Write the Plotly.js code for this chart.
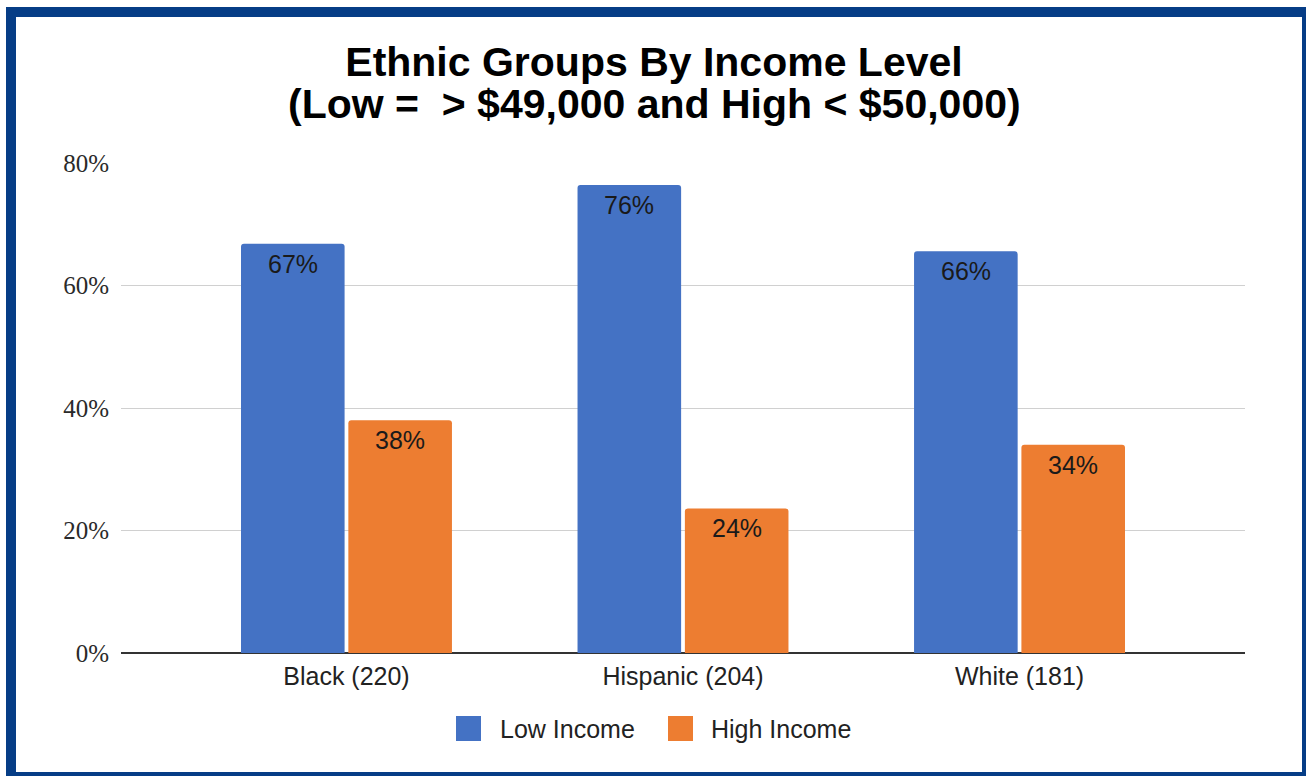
<!DOCTYPE html>
<html>
<head>
<meta charset="utf-8">
<script src="https://cdn.plot.ly/plotly-3.0.1.min.js"></script>
<style>
  html, body { margin:0; padding:0; background:#ffffff; overflow:hidden; }
  #chart { position:absolute; left:0; top:0; width:1306px; height:776px; }
  #frame { position:absolute; left:6px; top:7px; width:1306px; height:775px; box-sizing:border-box;
           border:10px solid #063d86; pointer-events:none; }
</style>
</head>
<body>
<div id="chart"></div>
<div id="frame"></div>
<script>
// ---- data ----
const categories = ['Black (220)', 'Hispanic (204)', 'White (181)'];
const seriesNames = ['Low Income', 'High Income'];
const lowIncome = [0.668, 0.764, 0.656];
const highIncome = [0.38, 0.236, 0.34];
const yTickVals = [0, 0.2, 0.4, 0.6, 0.8];
const yTickText = ['0%', '20%', '40%', '60%', '80%'];
const titleLines = ['Ethnic Groups By Income Level', '(Low =\u00A0 > $49,000 and High < $50,000)'];

// ---- style ----
const colors = ['#4472c4', '#ed7d31'];
const bargap = 0.362;
const bargroupgap = 0.035;
const W = 1306, H = 776;
const M = {l:121, r:61, t:163, b:123};
const pw = W - M.l - M.r, ph = H - M.t - M.b;
const px2x = p => (p - M.l) / pw;
const py2y = p => (H - M.b - p) / ph;
const sans = 'Liberation Sans, Arial, sans-serif';
const titleFont = {family: sans, size: 41, color: '#000000'};

const series = [lowIncome, highIncome];
const traces = series.map((vals, s) => ({
  type: 'bar',
  name: seriesNames[s],
  x: categories,
  y: vals,
  marker: {color: colors[s], line: {width: 0}},
  showlegend: false,
  hoverinfo: 'skip'
}));

const annotations = [];
// second title line
annotations.push({
  xref: 'paper', yref: 'paper',
  x: px2x(654), y: py2y(104),
  xanchor: 'center', yanchor: 'middle',
  showarrow: false,
  text: '<b>' + titleLines[1] + '</b>',
  font: titleFont
});

// value labels near the top inside each bar
const slot = (1 - bargap) / 2;
series.forEach((vals, s) => {
  vals.forEach((v, i) => {
    annotations.push({
      xref: 'x', yref: 'y',
      x: i + (s === 0 ? -slot / 2 : slot / 2),
      y: v,
      yanchor: 'middle', xanchor: 'center',
      yshift: -20,
      showarrow: false,
      text: Math.round(v * 100) + '%',
      font: {family: sans, size: 25, color: '#1a1a1a'}
    });
  });
});

// legend (drawn manually to match large swatches)
const legendItems = [
  {sx: 456, tx: 498},
  {sx: 668, tx: 709}
];
const shapes = [];
legendItems.forEach((it, s) => {
  shapes.push({
    type: 'rect', xref: 'paper', yref: 'paper',
    x0: px2x(it.sx), x1: px2x(it.sx + 25),
    y0: py2y(741), y1: py2y(716),
    fillcolor: colors[s], line: {width: 0}
  });
  annotations.push({
    xref: 'paper', yref: 'paper',
    x: px2x(it.tx), y: py2y(728.5),
    xanchor: 'left', yanchor: 'middle',
    showarrow: false,
    text: seriesNames[s],
    font: {family: sans, size: 25, color: '#222222'}
  });
});

const layout = {
  width: W, height: H,
  margin: M,
  paper_bgcolor: '#ffffff',
  plot_bgcolor: '#ffffff',
  barmode: 'group',
  bargap: bargap,
  bargroupgap: bargroupgap,
  barcornerradius: 3,
  showlegend: false,
  title: {
    text: '<b>' + titleLines[0] + '</b>',
    font: titleFont,
    xref: 'container', x: 654 / W, xanchor: 'center',
    yref: 'container', y: 1 - 62 / H, yanchor: 'middle'
  },
  xaxis: {
    type: 'category',
    range: [-0.67, 2.67],
    showgrid: false,
    showline: false,
    zeroline: false,
    ticks: '',
    ticklabelstandoff: 6,
    tickfont: {family: sans, size: 25, color: '#222222'},
    fixedrange: true
  },
  yaxis: {
    range: [0, 0.8],
    tickvals: yTickVals,
    ticktext: yTickText,
    showgrid: true,
    gridcolor: '#d0d0d0',
    gridwidth: 1,
    zeroline: true,
    zerolinecolor: '#333333',
    zerolinewidth: 2,
    showline: false,
    ticks: '',
    ticklabelstandoff: 11,
    tickfont: {family: 'Liberation Serif, Times New Roman, serif', size: 25, color: '#2a2a2a'},
    fixedrange: true
  },
  shapes: shapes,
  annotations: annotations
};

Plotly.newPlot('chart', traces, layout, {displayModeBar: false, staticPlot: true});
</script>
</body>
</html>
